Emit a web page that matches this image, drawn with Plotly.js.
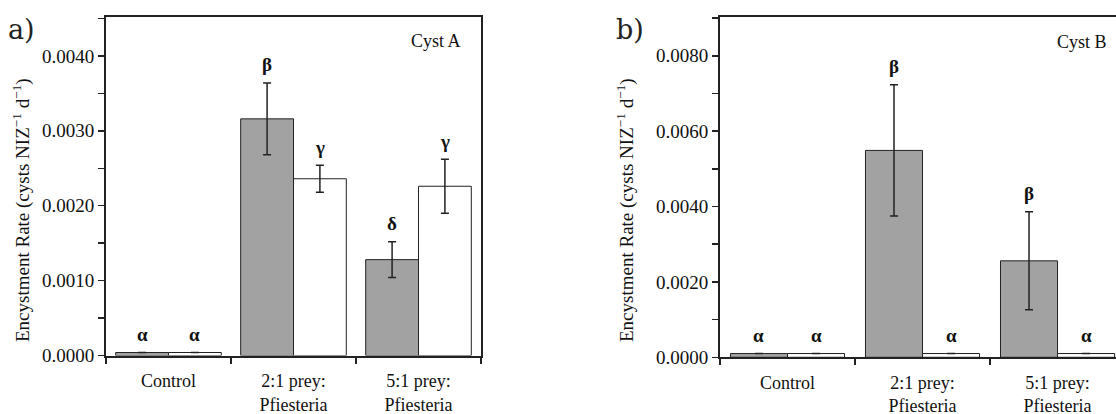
<!DOCTYPE html>
<html>
<head>
<meta charset="utf-8">
<script src="https://cdn.plot.ly/plotly-3.0.1.min.js"></script>
<style>html,body{margin:0;padding:0;background:#fff;}#chart{width:1116px;height:414px;}</style>
</head>
<body>
<div id="chart"></div>
<script>
// Categories
const categories = ["Control", "2:1 prey:<br>Pfiesteria", "5:1 prey:<br>Pfiesteria"];

// Panel a) Cyst A
const cystA_gray = [0.00004, 0.00316, 0.00128];
const cystA_grayErr = [0, 0.00048, 0.00024];
const cystA_white = [0.00004, 0.00236, 0.00226];
const cystA_whiteErr = [0, 0.00018, 0.00036];
const cystA_grayLetters = ["α", "β", "δ"];
const cystA_whiteLetters = ["α", "γ", "γ"];

// Panel b) Cyst B
const cystB_gray = [0.0001, 0.00549, 0.00256];
const cystB_grayErr = [0, 0.00174, 0.0013];
const cystB_white = [0.0001, 0.0001, 0.0001];
const cystB_whiteErr = [0, 0, 0];
const cystB_grayLetters = ["α", "β", "β"];
const cystB_whiteLetters = ["α", "α", "α"];

const yTitle = "Encystment Rate (cysts NIZ<sup>−1</sup> d<sup>−1</sup>)";

const SERIF = "'Liberation Serif', 'Times New Roman', serif";
const INK = "#222";
const GRAY = "#a2a2a2";
const BARGAP = 0.155;

function barTrace(y, err, fill, xa, ya) {
  return {
    type: "bar", x: categories, y: y, xaxis: xa, yaxis: ya,
    marker: {color: fill, line: {color: INK, width: 1}},
    error_y: {type: "data", array: err, visible: true, color: INK, thickness: 1.5, width: 4},
    hoverinfo: "skip"
  };
}

const data = [
  barTrace(cystA_gray, cystA_grayErr, GRAY, "x", "y"),
  barTrace(cystA_white, cystA_whiteErr, "#ffffff", "x", "y"),
  barTrace(cystB_gray, cystB_grayErr, GRAY, "x2", "y2"),
  barTrace(cystB_white, cystB_whiteErr, "#ffffff", "x2", "y2")
];

const off = (1 - BARGAP) / 4;
const annotations = [];
function letters(vals, errs, labs, sign, xr, yr) {
  vals.forEach((v, i) => {
    annotations.push({
      xref: xr, yref: yr, x: i + sign * off, y: v + errs[i],
      text: "<b>" + labs[i] + "</b>", showarrow: false,
      xanchor: "center", yanchor: "middle", yshift: 18,
      font: {family: SERIF, size: 19, color: "#111"}
    });
  });
}
letters(cystA_gray, cystA_grayErr, cystA_grayLetters, -1, "x", "y");
letters(cystA_white, cystA_whiteErr, cystA_whiteLetters, 1, "x", "y");
letters(cystB_gray, cystB_grayErr, cystB_grayLetters, -1, "x2", "y2");
letters(cystB_white, cystB_whiteErr, cystB_whiteLetters, 1, "x2", "y2");

annotations.push(
  {xref: "paper", yref: "paper", x: 436, y: 41, text: "Cyst A", showarrow: false,
   font: {family: SERIF, size: 18, color: "#111"}},
  {xref: "paper", yref: "paper", x: 1082, y: 42, text: "Cyst B", showarrow: false,
   font: {family: SERIF, size: 18, color: "#111"}},
  {xref: "paper", yref: "paper", x: 21, y: 30, text: "a)", showarrow: false,
   font: {family: "'DejaVu Serif', serif", size: 27, color: "#222"}},
  {xref: "paper", yref: "paper", x: 630, y: 30, text: "b)", showarrow: false,
   font: {family: "'DejaVu Serif', serif", size: 27, color: "#222"}},
  {xref: "paper", yref: "paper", x: 22, y: 210, text: yTitle, showarrow: false, textangle: -90,
   font: {family: SERIF, size: 19, color: "#111"}},
  {xref: "paper", yref: "paper", x: 626, y: 210, text: yTitle, showarrow: false, textangle: -90,
   font: {family: SERIF, size: 19, color: "#111"}}
);

// convert pixel positions of the free texts into paper coordinates
const M = {l: 106, r: 0, t: 17, b: 56};
const W = 1116, H = 414;
const pw = W - M.l - M.r, ph = H - M.t - M.b;
annotations.forEach(a => {
  if (a.xref === "paper") {
    a.x = (a.x - M.l) / pw;
    a.y = (H - M.b - a.y) / ph;
    a.xanchor = "center";
    a.yanchor = "middle";
  }
});

function xAxis(domain, range) {
  return {
    domain: domain, range: range, type: "category",
    showline: true, linecolor: INK, linewidth: 2, mirror: true,
    ticks: "outside", tickson: "boundaries", ticklen: 6, tickwidth: 1.5, tickcolor: INK,
    ticklabelstandoff: 8,
    tickfont: {family: SERIF, size: 18, color: "#111"},
    showgrid: false, zeroline: false, fixedrange: true
  };
}
function yAxis(domain, range, dtick, minorDtick, anchor, mirror) {
  return {
    domain: domain, range: range, anchor: anchor,
    dtick: dtick, tick0: 0, tickformat: ".4f",
    showline: true, linecolor: INK, linewidth: 2, mirror: mirror,
    ticks: "outside", ticklen: 6, tickwidth: 1.5, tickcolor: INK,
    minor: {dtick: minorDtick, ticks: "outside", ticklen: 6, tickwidth: 1.5, tickcolor: INK, showgrid: false},
    tickfont: {family: SERIF, size: 19, color: "#111"},
    showgrid: false, zeroline: false, fixedrange: true
  };
}

const layout = {
  width: W, height: H,
  margin: M,
  paper_bgcolor: "#fff", plot_bgcolor: "#fff",
  showlegend: false,
  barmode: "group", bargap: BARGAP, bargroupgap: 0,
  xaxis: Object.assign(xAxis([0, 375 / pw], [-0.5, 2.5]), {anchor: "y"}),
  yaxis: yAxis([2.5 / ph, 1], [0, 0.00452], 0.001, 0.0005, "x", true),
  xaxis2: Object.assign(xAxis([(720 - M.l) / pw, 1], [-0.5, 2.433]), {anchor: "y2"}),
  yaxis2: yAxis([0.7 / ph, 1], [0, 0.00903], 0.002, 0.001, "x2", false),
  annotations: annotations
};

Plotly.newPlot("chart", data, layout, {staticPlot: true, displayModeBar: false});
</script>
</body>
</html>
